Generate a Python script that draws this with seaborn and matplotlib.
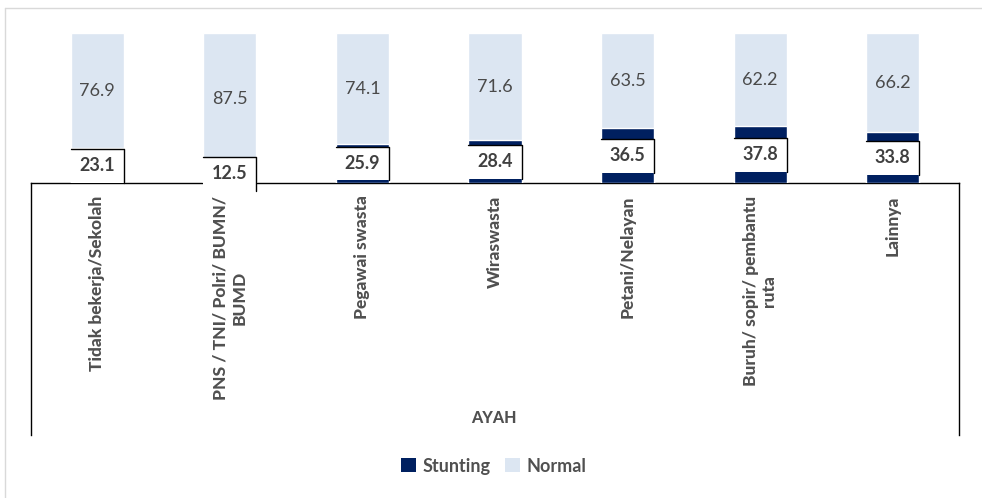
import matplotlib
matplotlib.use("Agg")
import matplotlib.pyplot as plt
import seaborn as sns
import pandas as pd
from matplotlib.patches import Rectangle, Patch
from matplotlib.lines import Line2D

categories = ["Tidak bekerja/Sekolah", "PNS / TNI/ Polri/ BUMN/\nBUMD", "Pegawai swasta",
              "Wiraswasta", "Petani/Nelayan", "Buruh/ sopir/ pembantu\nruta", "Lainnya"]
stunting = [23.1, 12.5, 25.9, 28.4, 36.5, 37.8, 33.8]
normal = [76.9, 87.5, 74.1, 71.6, 63.5, 62.2, 66.2]
group_label = "AYAH"
series_names = ["Stunting", "Normal"]

NAVY = "#002060"
LIGHT = "#dce6f2"
TXT = "#404040"
GRAY = "#505050"

sns.set_theme(style="white")
plt.rcParams["font.family"] = ["Lato", "DejaVu Sans"]

df = pd.DataFrame({"cat": categories, "Stunting": stunting, "Normal": normal})
df["Total"] = df["Stunting"] + df["Normal"]

W, H = 982, 498
fig = plt.figure(figsize=(W / 100, H / 100), dpi=100)
fig.patch.set_facecolor("white")


def fx(px):
    return px / W


def fy(py):
    return 1 - py / H


x0, x1 = 31, 959
y_top, y_base, y_bot = 33, 183, 435

# category box (below baseline)
ax2 = fig.add_axes([fx(x0), fy(y_bot), fx(x1 - x0), (y_bot - y_base) / H])
ax2.set_xticks([])
ax2.set_yticks([])
for s in ["left", "right", "top"]:
    ax2.spines[s].set_visible(True)
    ax2.spines[s].set_color("black")
    ax2.spines[s].set_linewidth(1.0)
ax2.spines["bottom"].set_visible(False)
ax2.patch.set_alpha(0)
ax2.set_zorder(1)

ax = fig.add_axes([fx(x0), fy(y_base), fx(x1 - x0), (y_base - y_top) / H])
ax.set_zorder(2)
ax.patch.set_alpha(0)

sns.barplot(data=df, x="cat", y="Total", color=LIGHT, width=0.4, saturation=1, ax=ax)
sns.barplot(data=df, x="cat", y="Stunting", color=NAVY, width=0.4, saturation=1, ax=ax)

ax.set_xlim(-0.5, len(categories) - 0.5)
ax.set_ylim(0, 100)
ax.set_xlabel("")
ax.set_ylabel("")
ax.set_yticks([])
for s in ax.spines.values():
    s.set_visible(False)
ax.tick_params(axis="x", length=0, pad=9)
ax.set_xticks(range(len(categories)))
ax.set_xticklabels(categories, rotation=90, ha="center", va="top",
                   multialignment="center", fontsize=12.5, fontweight=900, color=GRAY)

# Normal labels
for p, s_val, n_val in zip(ax.containers[0], stunting, normal):
    xc = p.get_x() + p.get_width() / 2
    ax.text(xc, s_val + n_val / 2, f"{n_val:.1f}", ha="center", va="center",
            fontsize=13, color="#4a4a4a", zorder=5)

# Stunting labels with white boxes
box_h = 22.5
for p, s_val in zip(ax.containers[1], stunting):
    xl = p.get_x()
    w = p.get_width()
    yc = s_val / 2
    rect = Rectangle((xl, yc - box_h / 2), w, box_h, facecolor="white",
                     edgecolor="none", zorder=4, clip_on=False)
    ax.add_patch(rect)
    ax.add_line(Line2D([xl, xl + w, xl + w], [yc + box_h / 2, yc + box_h / 2, yc - box_h / 2],
                       color="black", lw=1.0, zorder=4.5, clip_on=False))
    ax.text(xl + w / 2, yc, f"{s_val:.1f}", ha="center", va="center",
            fontsize=13, fontweight="bold", color=TXT, zorder=5)

fig.text(fx(494), fy(418), group_label, ha="center", va="center",
         fontsize=11.5, fontweight=900, color=GRAY)

handles = [Patch(facecolor=NAVY, edgecolor="none"), Patch(facecolor=LIGHT, edgecolor="none")]
leg = fig.legend(handles, series_names, loc="center", bbox_to_anchor=(fx(494), fy(466)),
                 ncol=2, frameon=False, handlelength=0.8, handleheight=0.8,
                 handletextpad=0.4, columnspacing=0.8,
                 prop={"size": 13, "weight": "bold"})
for t in leg.get_texts():
    t.set_color(GRAY)

# light outer frame
fig.add_artist(Line2D([fx(5), 1], [fy(8), fy(8)], color="#d9d9d9", lw=1))
fig.add_artist(Line2D([fx(5), fx(5)], [fy(8), 0], color="#d9d9d9", lw=1))

fig.savefig("out.png", dpi=100)
